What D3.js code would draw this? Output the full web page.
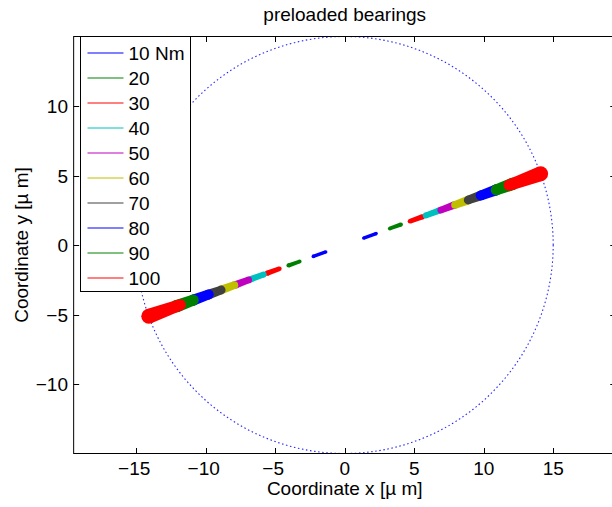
<!DOCTYPE html>
<html>
<head>
<meta charset="utf-8">
<script src="https://cdn.jsdelivr.net/npm/d3@7"></script>
<style>
  html, body { margin: 0; padding: 0; background: #fff; }
  svg { display: block; font-family: "Liberation Sans", Arial, Helvetica, sans-serif; }
</style>
</head>
<body>
<svg id="chart" width="612" height="507"></svg>
<script>
// Shaft-centre orbits of preloaded bearings at increasing torque.
const torqueLabels = ["10 Nm", "20", "30", "40", "50", "60", "70", "80", "90", "100"];
const seriesColors = ["#0000ff", "#008000", "#ff0000", "#00bfbf", "#bf00bf",
                      "#bfbf00", "#404040", "#0000ff", "#008000", "#ff0000"];
// Radial extent of each orbit along its principal direction [µm]
const orbitInner = [1.45, 3.45, 5.0, 6.2, 7.35, 8.45, 9.45, 10.4, 11.6, 12.6];
const orbitOuter = [2.4, 4.3, 5.95, 7.2, 8.35, 9.5, 10.5, 11.6, 12.9, 15.0];
// Orbit thickness across the principal direction [µm]
const thickInner = [0.24, 0.27, 0.33, 0.42, 0.48, 0.56, 0.62, 0.7, 0.8, 0.82];
const thickOuter = [0.26, 0.3, 0.37, 0.46, 0.54, 0.62, 0.7, 0.8, 0.9, 1.08];
// Principal direction of the orbits [deg]
const orbitAngle = 20;
// Bearing clearance circle radius [µm]
const clearanceRadius = 15;

const xTicks = [-15, -10, -5, 0, 5, 10, 15];
const yTicks = [-10, -5, 0, 5, 10];
const xDomain = [-19.5, 19.5];
const yDomain = [-15, 15];

const svg = d3.select("#chart");
const plot = { left: 73.65, right: 615.75, top: 36.5, bottom: 453.5 };

const x = d3.scaleLinear().domain(xDomain).range([plot.left, plot.right]);
const y = d3.scaleLinear().domain(yDomain).range([plot.bottom, plot.top]);
const pxPerUnit = x(1) - x(0);

const fmt = d => (d < 0 ? "\u2212" + Math.abs(d) : String(d));
const fontSize = 19;

// Clearance circle (dotted)
svg.append("circle")
  .attr("cx", x(0)).attr("cy", y(0))
  .attr("r", clearanceRadius * pxPerUnit)
  .attr("fill", "none")
  .attr("stroke", "#0000ff")
  .attr("stroke-opacity", 0.85)
  .attr("stroke-width", 1.1)
  .attr("stroke-dasharray", "1.5,2.6");

// Orbits: a tapered band with rounded ends on each side of the centre
const theta = orbitAngle * Math.PI / 180;
const ux = Math.cos(theta), uy = Math.sin(theta);
const orbits = svg.append("g");

function drawBand(r0, r1, w0, w1, side, color) {
  const pa = [x(side * r0 * ux), y(side * r0 * uy)];
  const pb = [x(side * r1 * ux), y(side * r1 * uy)];
  const dx = pb[0] - pa[0], dy = pb[1] - pa[1];
  const len = Math.hypot(dx, dy);
  const nx = -dy / len, ny = dx / len;
  const h0 = w0 * pxPerUnit / 2, h1 = w1 * pxPerUnit / 2;
  const g = orbits.append("g").attr("fill", color);
  g.append("polygon").attr("points", [
    [pa[0] + nx * h0, pa[1] + ny * h0],
    [pb[0] + nx * h1, pb[1] + ny * h1],
    [pb[0] - nx * h1, pb[1] - ny * h1],
    [pa[0] - nx * h0, pa[1] - ny * h0]
  ].map(p => p.join(",")).join(" "));
  g.append("circle").attr("cx", pa[0]).attr("cy", pa[1]).attr("r", h0);
  g.append("circle").attr("cx", pb[0]).attr("cy", pb[1]).attr("r", h1);
}

torqueLabels.forEach((t, i) => {
  [1, -1].forEach(side => {
    drawBand(orbitInner[i], orbitOuter[i], thickInner[i], thickOuter[i], side, seriesColors[i]);
  });
});

// Axes box and ticks
const axes = svg.append("g").attr("stroke", "#000").attr("stroke-width", 1).attr("fill", "none");
axes.append("rect")
  .attr("x", plot.left).attr("y", plot.top)
  .attr("width", plot.right - plot.left).attr("height", plot.bottom - plot.top);

const tickLen = 5.5;
xTicks.forEach(v => {
  const px = Math.round(x(v)) + 0.5;
  axes.append("line").attr("x1", px).attr("x2", px).attr("y1", plot.bottom).attr("y2", plot.bottom - tickLen);
  axes.append("line").attr("x1", px).attr("x2", px).attr("y1", plot.top).attr("y2", plot.top + tickLen);
});
yTicks.forEach(v => {
  const py = Math.round(y(v)) + 0.5;
  axes.append("line").attr("x1", plot.left).attr("x2", plot.left + tickLen).attr("y1", py).attr("y2", py);
  axes.append("line").attr("x1", plot.right).attr("x2", plot.right - tickLen).attr("y1", py).attr("y2", py);
});

// Tick labels
svg.append("g").selectAll("text").data(xTicks).join("text")
  .attr("x", d => x(d) + (d < 0 ? -2 : 0))
  .attr("y", 475)
  .attr("text-anchor", "middle")
  .attr("font-size", fontSize)
  .attr("fill", "#000")
  .text(fmt);

svg.append("g").selectAll("text").data(yTicks).join("text")
  .attr("x", 68)
  .attr("y", d => y(d) + 7)
  .attr("text-anchor", "end")
  .attr("font-size", fontSize)
  .attr("fill", "#000")
  .text(fmt);

// Axis labels and title
svg.append("text")
  .attr("x", x(0)).attr("y", 495)
  .attr("text-anchor", "middle").attr("font-size", fontSize).attr("fill", "#000")
  .text("Coordinate x [\u00b5 m]");

svg.append("text")
  .attr("transform", `translate(28, ${y(0)}) rotate(-90)`)
  .attr("text-anchor", "middle").attr("font-size", fontSize).attr("fill", "#000")
  .text("Coordinate y [\u00b5 m]");

svg.append("text")
  .attr("x", x(0)).attr("y", 21)
  .attr("text-anchor", "middle").attr("font-size", fontSize).attr("fill", "#000")
  .text("preloaded bearings");

// Legend
const legend = svg.append("g");
const lg = { x: 80.5, y: 36.5, w: 110, h: 255, row0: 53, rowStep: 25 };
legend.append("rect")
  .attr("x", lg.x).attr("y", lg.y).attr("width", lg.w).attr("height", lg.h)
  .attr("fill", "#fff").attr("stroke", "#000").attr("stroke-width", 1);

torqueLabels.forEach((t, i) => {
  const ry = lg.row0 + i * lg.rowStep;
  legend.append("line")
    .attr("x1", 87.5).attr("x2", 123.5).attr("y1", ry).attr("y2", ry)
    .attr("stroke", seriesColors[i]).attr("stroke-width", 1);
  legend.append("text")
    .attr("x", 128.5).attr("y", ry + 6.5)
    .attr("font-size", fontSize).attr("fill", "#000")
    .text(t);
});
</script>
</body>
</html>
